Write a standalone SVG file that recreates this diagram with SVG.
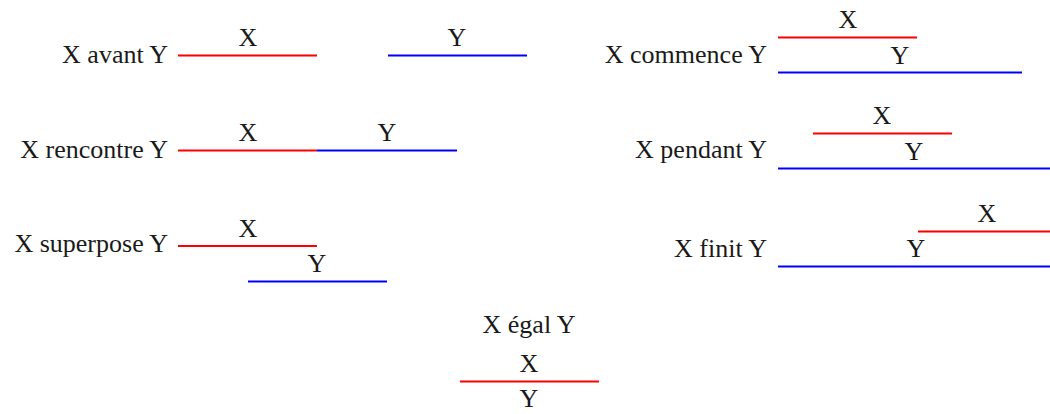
<svg xmlns="http://www.w3.org/2000/svg" width="1050" height="414" viewBox="0 0 1050 414">
<style>
text{font-family:"Liberation Serif","Times New Roman",serif;font-size:26px;fill:#1a1a1a}
.l{text-anchor:end}
.c{text-anchor:middle}
.r{stroke:#ff0000;stroke-width:2;fill:none}
.b{stroke:#0000ff;stroke-width:2;fill:none}
</style>
<rect width="1050" height="414" fill="#fff"/>
<g id="avant">
<text class="l" x="168" y="63">X avant Y</text>
<line class="r" x1="178" y1="55.5" x2="317" y2="55.5"/>
<line class="b" x1="388" y1="55.5" x2="527" y2="55.5"/>
<text class="c" x="248" y="46">X</text>
<text class="c" x="457" y="46">Y</text>
</g>
<g id="commence">
<text class="l" x="767" y="63">X commence Y</text>
<line class="r" x1="778" y1="37.5" x2="917" y2="37.5"/>
<line class="b" x1="778" y1="72.5" x2="1022" y2="72.5"/>
<text class="c" x="848" y="28">X</text>
<text class="c" x="900" y="64">Y</text>
</g>
<g id="rencontre">
<text class="l" x="168" y="158">X rencontre Y</text>
<line class="r" x1="178" y1="150.5" x2="317" y2="150.5"/>
<line class="b" x1="317" y1="150.5" x2="457" y2="150.5"/>
<text class="c" x="248" y="141">X</text>
<text class="c" x="387" y="141">Y</text>
</g>
<g id="pendant">
<text class="l" x="767" y="158">X pendant Y</text>
<line class="r" x1="813" y1="133.5" x2="952" y2="133.5"/>
<line class="b" x1="778" y1="168.5" x2="1050" y2="168.5"/>
<text class="c" x="882" y="124">X</text>
<text class="c" x="914" y="160">Y</text>
</g>
<g id="superpose">
<text class="l" x="168" y="252">X superpose Y</text>
<line class="r" x1="178" y1="246" x2="317" y2="246"/>
<line class="b" x1="248" y1="281.5" x2="387" y2="281.5"/>
<text class="c" x="248" y="237">X</text>
<text class="c" x="317" y="272">Y</text>
</g>
<g id="finit">
<text class="l" x="767" y="257">X finit Y</text>
<line class="r" x1="918" y1="231.5" x2="1050" y2="231.5"/>
<line class="b" x1="778" y1="266.5" x2="1050" y2="266.5"/>
<text class="c" x="987" y="222">X</text>
<text class="c" x="916" y="257">Y</text>
</g>
<g id="egal">
<text class="c" x="529" y="333">X égal Y</text>
<text class="c" x="529" y="372">X</text>
<line class="r" x1="460" y1="381.5" x2="599" y2="381.5"/>
<text class="c" x="529" y="407">Y</text>
</g>
</svg>
